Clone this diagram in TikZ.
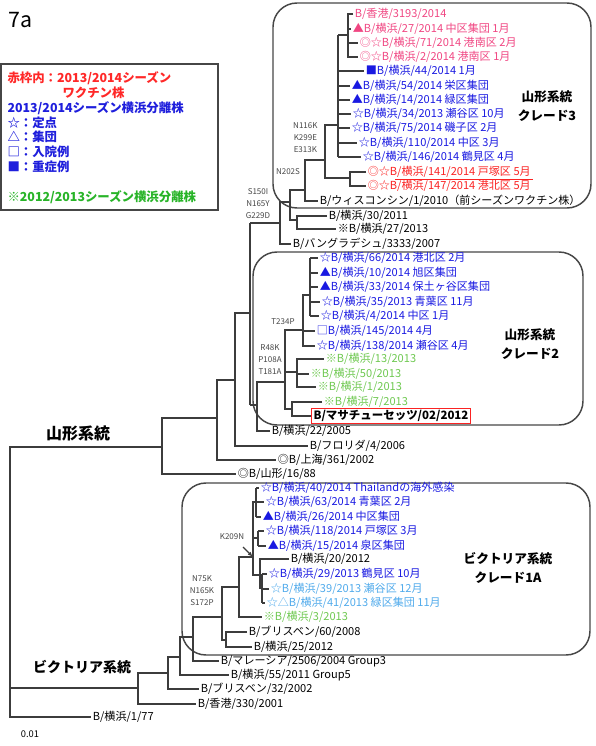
\documentclass[tikz,border=0pt]{standalone}
\usepackage{fontspec}
\setmainfont{Noto Sans CJK JP}
\usetikzlibrary{arrows.meta}

\definecolor{vacpink}{RGB}{240,70,130}
\definecolor{isoblue}{RGB}{25,25,225}
\definecolor{vacred}{RGB}{250,35,35}
\definecolor{oldgreen}{RGB}{110,200,80}
\definecolor{lightblue}{RGB}{80,170,235}
\definecolor{treegray}{RGB}{60,60,60}
\definecolor{boxgray}{RGB}{70,70,70}
\definecolor{mutgray}{RGB}{70,70,70}
\definecolor{legred}{RGB}{255,40,40}
\definecolor{legblue}{RGB}{30,30,220}
\definecolor{leggreen}{RGB}{40,180,40}

\tikzset{every picture/.style={line width=0.75pt},
  leaf/.style={anchor=west, inner sep=1pt, font=\fontsize{8.3}{9}\selectfont},
  mut/.style={inner sep=0pt, align=center, font=\fontsize{6}{9}\selectfont, text=mutgray},
  cladelbl/.style={align=center, font=\bfseries\fontsize{9.5}{14}\selectfont},
  legtext/.style={anchor=west, inner sep=0pt, font=\bfseries\fontsize{9.3}{11}\selectfont},
  br/.style={draw=treegray, line width=0.9pt},
  brbold/.style={draw=treegray, line width=1.6pt},
  cladebox/.style={draw=boxgray, line width=1.1pt, rounded corners=18pt}}

\begin{document}
\begin{tikzpicture}[x=0.75pt,y=0.75pt,yscale=-1,xscale=1]
	\useasboundingbox (0,0) rectangle (596,746);

	% Clade boxes
	\draw [cladebox] (273,3) rectangle (591,208);
	\draw [cladebox] (253,252) rectangle (583,425);
	\draw [cladebox] (182,483) rectangle (590,655);

	% Legend
	\draw [draw=boxgray, line width=1.1pt] (1,64) rectangle (218,210);
	\node [anchor=west, inner sep=0pt, font=\fontsize{16}{18}\selectfont] (title) at (8,20) {7a};
	\node [legtext, text=legred] (leg1) at (7,78) {赤枠内：2013/2014シーズン};
	\node [legtext, text=legred] (leg2) at (62,93) {ワクチン株};
	\node [legtext, text=legblue] (leg3) at (7,108) {2013/2014シーズン横浜分離株};
	\node [legtext, text=legblue] (leg4) at (7,123) {☆：定点};
	\node [legtext, text=legblue] (leg5) at (7,137) {△：集団};
	\node [legtext, text=legblue] (leg6) at (7,152) {□：入院例};
	\node [legtext, text=legblue] (leg7) at (7,167) {■：重症例};
	\node [legtext, text=leggreen] (leg8) at (7,197) {※2012/2013シーズン横浜分離株};

	% Yamagata clade 3 leaves
	\node [leaf, text=vacpink] (l1) at (353,14) {B/香港/3193/2014};
	\node [leaf, text=vacpink] (l2) at (351,29) {▲B/横浜/27/2014 中区集団 1月};
	\node [leaf, text=vacpink] (l3) at (358,43) {◎☆B/横浜/71/2014 港南区 2月};
	\node [leaf, text=vacpink] (l4) at (358,57) {◎☆B/横浜/2/2014 港南区 1月};
	\node [leaf, text=isoblue] (l5) at (364,71) {■B/横浜/44/2014 1月};
	\node [leaf, text=isoblue] (l6) at (350,86) {▲B/横浜/54/2014 栄区集団};
	\node [leaf, text=isoblue] (l7) at (350,100) {▲B/横浜/14/2014 緑区集団};
	\node [leaf, text=isoblue] (l8) at (351,114) {☆B/横浜/34/2013 瀬谷区 10月};
	\node [leaf, text=isoblue] (l9) at (350,128) {☆B/横浜/75/2014 磯子区 2月};
	\node [leaf, text=isoblue] (l10) at (357,143) {☆B/横浜/110/2014 中区 3月};
	\node [leaf, text=isoblue] (l11) at (361,157) {☆B/横浜/146/2014 鶴見区 4月};
	\node [leaf, text=vacred] (l12) at (366,172) {◎☆B/横浜/141/2014 戸塚区 5月};
	\node [leaf, text=vacred] (l13) at (366,186) {◎☆B/横浜/147/2014 港北区 5月};
	\node [leaf] (l14) at (318,201) {B/ウィスコンシン/1/2010（前シーズンワクチン株）};
	\node [leaf] (l15) at (327,216) {B/横浜/30/2011};
	\node [leaf] (l16) at (336,229) {※B/横浜/27/2013};
	\node [leaf] (l17) at (291,244) {B/バングラデシュ/3333/2007};
	\draw [vacred, line width=0.7pt] ([xshift=22pt]l12.south west) -- (l12.south east);

	% Yamagata clade 2 leaves
	\node [leaf, text=isoblue] (m1) at (318,258) {☆B/横浜/66/2014 港北区 2月};
	\node [leaf, text=isoblue] (m2) at (318,273) {▲B/横浜/10/2014 旭区集団};
	\node [leaf, text=isoblue] (m3) at (318,287) {▲B/横浜/33/2014 保土ヶ谷区集団};
	\node [leaf, text=isoblue] (m4) at (320,302) {☆B/横浜/35/2013 青葉区 11月};
	\node [leaf, text=isoblue] (m5) at (319,316) {☆B/横浜/4/2014 中区 1月};
	\node [leaf, text=isoblue] (m6) at (315,331) {□B/横浜/145/2014 4月};
	\node [leaf, text=isoblue] (m7) at (315,346) {☆B/横浜/138/2014 瀬谷区 4月};
	\node [leaf, text=oldgreen] (m8) at (324,359) {※B/横浜/13/2013};
	\node [leaf, text=oldgreen] (m9) at (309,374) {※B/横浜/50/2013};
	\node [leaf, text=oldgreen] (m10) at (316,387) {※B/横浜/1/2013};
	\node [leaf, text=oldgreen] (m11) at (322,402) {※B/横浜/7/2013};
	\node [leaf, draw=vacred, line width=0.9pt, inner sep=1.5pt, font=\bfseries\fontsize{8.6}{9}\selectfont] (m12) at (311,416) {B/マサチューセッツ/02/2012};
	\node [leaf] (m13) at (270,431) {B/横浜/22/2005};
	\node [leaf] (m14) at (308,446) {B/フロリダ/4/2006};
	\node [leaf] (m15) at (276,460) {◎B/上海/361/2002};
	\node [leaf] (m16) at (236,474) {◎B/山形/16/88};

	% Victoria leaves
	\node [leaf, text=isoblue] (v1) at (259,488) {☆B/横浜/40/2014 Thailandの海外感染};
	\node [leaf, text=isoblue] (v2) at (264,502) {☆B/横浜/63/2014 青葉区 2月};
	\node [leaf, text=isoblue] (v3) at (261,517) {▲B/横浜/26/2014 中区集団};
	\node [leaf, text=isoblue] (v4) at (264,531) {☆B/横浜/118/2014 戸塚区 3月};
	\node [leaf, text=isoblue] (v5) at (266,546) {▲B/横浜/15/2014 泉区集団};
	\node [leaf] (v6) at (289,559) {B/横浜/20/2012};
	\node [leaf, text=isoblue] (v7) at (267,574) {☆B/横浜/29/2013 鶴見区 10月};
	\node [leaf, text=lightblue] (v8) at (269,589) {☆B/横浜/39/2013 瀬谷区 12月};
	\node [leaf, text=lightblue] (v9) at (265,603) {☆△B/横浜/41/2013 緑区集団 11月};
	\node [leaf, text=oldgreen] (v10) at (262,617) {※B/横浜/3/2013};
	\node [leaf] (v11) at (247,632) {B/ブリスベン/60/2008};
	\node [leaf] (v12) at (252,647) {B/横浜/25/2012};
	\node [leaf] (v13) at (219,661) {B/マレーシア/2506/2004 Group3};
	\node [leaf] (v14) at (229,675) {B/横浜/55/2011 Group5};
	\node [leaf] (v15) at (199,689) {B/ブリスベン/32/2002};
	\node [leaf] (v16) at (196,704) {B/香港/330/2001};
	\node [leaf] (v17) at (91,717) {B/横浜/1/77};

	% internal nodes
	\coordinate (R) at (10,580);
	\coordinate (Y) at (162,447);
	\coordinate (Y2) at (217,418);
	\coordinate (Y3) at (235,380);
	\coordinate (Y4) at (250,313);
	\coordinate (Y5) at (280,223);
	\coordinate (Y7) at (290,202);
	\coordinate (Y8) at (305,190);
	\coordinate (Y9) at (297,220);
	\coordinate (A) at (325,160);
	\coordinate (B) at (338,125);
	\coordinate (C) at (350,178);
	\coordinate (T) at (348,35);
	\coordinate (Y6) at (257,405);
	\coordinate (Q) at (285,382);
	\coordinate (Q1) at (303,330);
	\coordinate (Q2) at (297,372);
	\coordinate (Q3) at (292,409);
	\coordinate (U) at (310,295);
	\coordinate (V) at (138,688);
	\coordinate (V2) at (168,673);
	\coordinate (V3) at (180,657);
	\coordinate (V4) at (193,637);
	\coordinate (V5) at (222,617);
	\coordinate (V6) at (239,587);
	\coordinate (V7) at (226,640);
	\coordinate (V8) at (253,557);
	\coordinate (W1) at (256,502);
	\coordinate (W2) at (258,538);
	\coordinate (W3) at (260,575);
	\coordinate (W4) at (262,588);

	% root
	\draw [br] (Y) -| (R) |- (v17.west);
	\draw [br] (R |- V) -- (V);

	% Yamagata lineage
	\draw [br] (Y2) -| (Y) |- (m16.west);
	\draw [br] (Y3) -| (Y2) |- (m15.west);
	\draw [br] (Y4) -| (Y3) |- (m14.west);
	\draw [brbold] (Y4 |- Y5) -- (Y4 |- Y6);
	\draw [br] (Y4 |- Y5) -- (Y5);
	\draw [br] (Y4 |- Y6) -- (Y6);
	\draw [br] (Y7) -| (Y5) |- (l17.west);
	\draw [br] (Y8) -| (Y7) |- (Y9);
	\draw [br] (l15.west) -| (Y9) |- (l16.west);
	\draw [br] (A) -| (Y8) |- (l14.west);
	\draw [br] (B) -| (A) |- (C);
	\draw [br] (l12.west) -| (C) |- (l13.west);
	\draw [brbold] (B |- T) -- (B |- l11);
	\draw [br] (B |- T) -- (T);
	\draw [br] (B |- l11) -- (l11.west);
	\foreach \k in {l5,l6,l7,l8,l9,l10} \draw [br] (B |- \k.west) -- (\k.west);
	\draw [br] (l1.west) -| (T) |- (l4.west);
	\draw [br] (T |- l2.west) -- (l2.west);
	\draw [br] (T |- l3.west) -- (l3.west);

	% Yamagata clade 2
	\draw [br] (Q) -| (Y6) |- (m13.west);
	\draw [br] (Q1) -| (Q) |- (Q3);
	\draw [br] (Q |- Q2) -- (Q2);
	\draw [br] (U) -| (Q1) |- (m7.west);
	\draw [br] (Q1 |- m6.west) -- (m6.west);
	\draw [brbold] (U |- m1.west) -- (U |- m5.west);
	\foreach \k in {m1,m2,m3,m4,m5} \draw [br] (U |- \k.west) -- (\k.west);
	\draw [br] (m8.west) -| (Q2) |- (m10.west);
	\draw [br] (Q2 |- m9.west) -- (m9.west);
	\draw [br] (m11.west) -| (Q3) |- (m12.west);

	% Victoria lineage
	\draw [br] (V2) -| (V) |- (v16.west);
	\draw [br] (V3) -| (V2) |- (v15.west);
	\draw [br] (V4) -| (V3) |- (v14.west);
	\draw [br] (V5) -| (V4) |- (v13.west);
	\draw [br] (V6) -| (V5) |- (V7);
	\draw [br] (v11.west) -| (V7) |- (v12.west);
	\draw [br] (V8) -| (V6) |- (v10.west);
	\draw [br] (W1) -| (V8) |- (W3);
	\draw [br] (V8 |- W2) -- (W2);
	\draw [brbold] (v1.west -| W1) -- (v3.west -| W1);
	\foreach \k in {v1,v2,v3} \draw [br] (W1 |- \k.west) -- (\k.west);
	\draw [brbold] (v4.west -| W2) -- (v5.west -| W2);
	\foreach \k in {v4,v5} \draw [br] (W2 |- \k.west) -- (\k.west);
	\draw [br] (v6.west) -| (W3) |- (W4);
	\draw [brbold] (v7.west -| W4) -- (v9.west -| W4);
	\foreach \k in {v7,v8,v9} \draw [br] (W4 |- \k.west) -- (\k.west);

	% Mutations
	\node [mut, anchor=east] (mutA) at (318,138) {N116K\\K299E\\E313K};
	\node [mut] (mutN) at (288,172) {N202S};
	\node [mut] (mutS) at (258,204) {S150I\\N165Y\\G229D};
	\node [mut] (mutT) at (283,322) {T234P};
	\node [mut] (mutR) at (270,360) {R48K\\P108A\\T181A};
	\node [mut] (mutK) at (232,537) {K209N};
	\node [mut] (mutV) at (202,591) {N75K\\N165K\\S172P};
	\coordinate (ktail) at (243,547);
	\draw [treegray, line width=0.8pt, -{Latex[length=4pt]}] (ktail) -- (V8);

	% Clade names
	\node [cladelbl] (c3) at (547,106) {山形系統\\クレード3};
	\node [cladelbl] (c2) at (530,344) {山形系統\\クレード2};
	\node [cladelbl] (c1a) at (508,568) {ビクトリア系統\\クレード1A};
	\node [font=\bfseries\fontsize{12}{14}\selectfont] (yam) at (78,433) {山形系統};
	\node [font=\bfseries\fontsize{10.5}{12}\selectfont] (vic) at (82,667) {ビクトリア系統};
	\node [font=\fontsize{7}{8}\selectfont] (scale) at (30,734) {0.01};

\end{tikzpicture}
\end{document}
